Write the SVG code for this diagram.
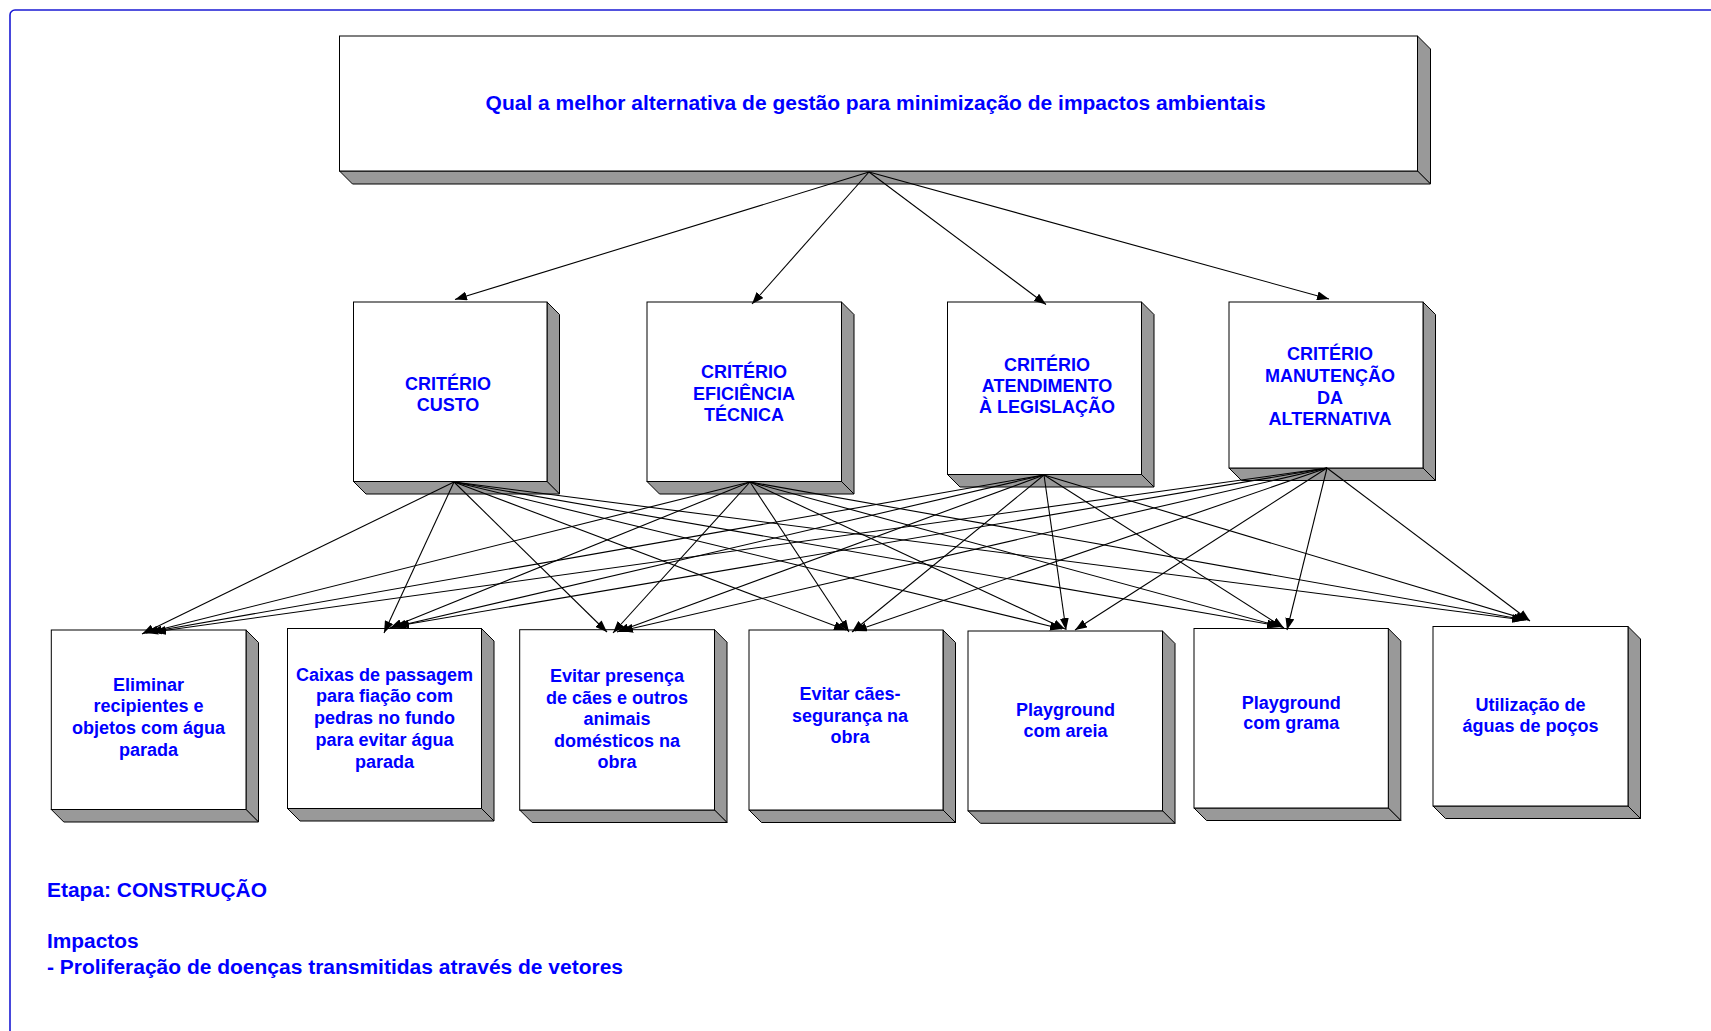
<svg xmlns="http://www.w3.org/2000/svg" width="1711" height="1031" viewBox="0 0 1711 1031">
  <defs>
    <marker id="arrow" markerUnits="userSpaceOnUse" markerWidth="12" markerHeight="9" refX="12" refY="4.5" orient="auto">
      <path d="M0,0 L12,4.5 L0,9 z" fill="#000"/>
    </marker>
  </defs>
  <style>
    .frame { fill: none; stroke: #1a1ad4; stroke-width: 1.6; }
    .face { fill: #fff; stroke: #000; stroke-width: 1; }
    .side { fill: #999; stroke: #000; stroke-width: 1; stroke-linejoin: miter; }
    .txt { font-family: "Liberation Sans", Arial, sans-serif; font-weight: bold; fill: #0000ff; }
    .crit { font-size: 18px; text-anchor: middle; }
    .alt { font-size: 18px; text-anchor: middle; }
    .big { font-size: 19.5px; }
    .conn line { stroke: #000; stroke-width: 1.1; marker-end: url(#arrow); }
  </style>

  <rect width="1711" height="1031" fill="#fff"/>
  <!-- page frame -->
  <rect class="frame" x="10" y="10" width="1730" height="1050" rx="5" ry="5"/>

  <!-- goal -->
  <g id="goal">
    <polygon class="side" points="1417.5,36 1430.5,49 1430.5,184 1417.5,171"/>
    <polygon class="side" points="339.5,171 1417.5,171 1430.5,184 352.5,184"/>
    <rect class="face" x="339.5" y="36" width="1078" height="135"/>
    <text class="txt big" x="485.6" y="109.5" textLength="780" lengthAdjust="spacingAndGlyphs">Qual a melhor alternativa de gestão para minimização de impactos ambientais</text>
  </g>

  <!-- criteria -->
  <g id="crit-custo">
    <polygon class="side" points="547,302 559.5,314.5 559.5,494 547,481.5"/>
    <polygon class="side" points="353.5,481.5 547,481.5 559.5,494 366,494"/>
    <rect class="face" x="353.5" y="302" width="193.5" height="179.5"/>
    <text class="txt crit" x="448" y="389.5">CRITÉRIO</text>
    <text class="txt crit" x="448" y="410.5">CUSTO</text>
  </g>
  <g id="crit-eficiencia">
    <polygon class="side" points="841.5,302 854,314.5 854,494 841.5,481.5"/>
    <polygon class="side" points="647,481.5 841.5,481.5 854,494 659.5,494"/>
    <rect class="face" x="647" y="302" width="194.5" height="179.5"/>
    <text class="txt crit" x="744" y="378.3">CRITÉRIO</text>
    <text class="txt crit" x="744" y="399.6">EFICIÊNCIA</text>
    <text class="txt crit" x="744" y="420.9">TÉCNICA</text>
  </g>
  <g id="crit-legislacao">
    <polygon class="side" points="1141.5,302 1154,314.5 1154,487 1141.5,474.5"/>
    <polygon class="side" points="947.5,474.5 1141.5,474.5 1154,487 960,487"/>
    <rect class="face" x="947.5" y="302" width="194" height="172.5"/>
    <text class="txt crit" x="1047" y="370.7">CRITÉRIO</text>
    <text class="txt crit" x="1047" y="392">ATENDIMENTO</text>
    <text class="txt crit" x="1047" y="413.3">À LEGISLAÇÃO</text>
  </g>
  <g id="crit-manutencao">
    <polygon class="side" points="1423,302 1435.5,314.5 1435.5,480.5 1423,468"/>
    <polygon class="side" points="1229,468 1423,468 1435.5,480.5 1241.5,480.5"/>
    <rect class="face" x="1229" y="302" width="194" height="166"/>
    <text class="txt crit" x="1330" y="360">CRITÉRIO</text>
    <text class="txt crit" x="1330" y="381.8">MANUTENÇÃO</text>
    <text class="txt crit" x="1330" y="403.6">DA</text>
    <text class="txt crit" x="1330" y="425.4">ALTERNATIVA</text>
  </g>

  <!-- alternatives -->
  <g id="alt-recipientes">
    <polygon class="side" points="246,630 258.5,642.5 258.5,822 246,809.5"/>
    <polygon class="side" points="51.3,809.5 246,809.5 258.5,822 63.8,822"/>
    <rect class="face" x="51.3" y="630" width="194.7" height="179.5"/>
    <text class="txt alt" x="148.6" y="690.7">Eliminar</text>
    <text class="txt alt" x="148.6" y="712.4">recipientes e</text>
    <text class="txt alt" x="148.6" y="734.1">objetos com água</text>
    <text class="txt alt" x="148.6" y="755.8">parada</text>
  </g>
  <g id="alt-caixas">
    <polygon class="side" points="481.5,628.5 494,641 494,821 481.5,808.5"/>
    <polygon class="side" points="287.5,808.5 481.5,808.5 494,821 300,821"/>
    <rect class="face" x="287.5" y="628.5" width="194" height="180"/>
    <text class="txt alt" x="384.5" y="680.7">Caixas de passagem</text>
    <text class="txt alt" x="384.5" y="702.4">para fiação com</text>
    <text class="txt alt" x="384.5" y="724.1">pedras no fundo</text>
    <text class="txt alt" x="384.5" y="745.8">para evitar água</text>
    <text class="txt alt" x="384.5" y="767.5">parada</text>
  </g>
  <g id="alt-animais">
    <polygon class="side" points="714.5,629.7 727,642.2 727,822.5 714.5,810"/>
    <polygon class="side" points="519.7,810 714.5,810 727,822.5 532.2,822.5"/>
    <rect class="face" x="519.7" y="629.7" width="194.8" height="180.3"/>
    <text class="txt alt" x="617" y="682">Evitar presença</text>
    <text class="txt alt" x="617" y="703.5">de cães e outros</text>
    <text class="txt alt" x="617" y="725">animais</text>
    <text class="txt alt" x="617" y="746.5">domésticos na</text>
    <text class="txt alt" x="617" y="768">obra</text>
  </g>
  <g id="alt-caes-seguranca">
    <polygon class="side" points="943,630 955.5,642.5 955.5,822.5 943,810"/>
    <polygon class="side" points="749,810 943,810 955.5,822.5 761.5,822.5"/>
    <rect class="face" x="749" y="630" width="194" height="180"/>
    <text class="txt alt" x="850" y="700">Evitar cães-</text>
    <text class="txt alt" x="850" y="721.5">segurança na</text>
    <text class="txt alt" x="850" y="743">obra</text>
  </g>
  <g id="alt-playground-areia">
    <polygon class="side" points="1162.5,631 1175,643.5 1175,823.3 1162.5,810.8"/>
    <polygon class="side" points="968,810.8 1162.5,810.8 1175,823.3 980.5,823.3"/>
    <rect class="face" x="968" y="631" width="194.5" height="179.8"/>
    <text class="txt alt" x="1065.5" y="716">Playground</text>
    <text class="txt alt" x="1065.5" y="736.7">com areia</text>
  </g>
  <g id="alt-playground-grama">
    <polygon class="side" points="1388.3,628.5 1400.8,641 1400.8,820.5 1388.3,808"/>
    <polygon class="side" points="1194,808 1388.3,808 1400.8,820.5 1206.5,820.5"/>
    <rect class="face" x="1194" y="628.5" width="194.3" height="179.5"/>
    <text class="txt alt" x="1291.3" y="708.7">Playground</text>
    <text class="txt alt" x="1291.3" y="729.4">com grama</text>
  </g>
  <g id="alt-pocos">
    <polygon class="side" points="1628,626.5 1640.5,639 1640.5,818.5 1628,806"/>
    <polygon class="side" points="1433,806 1628,806 1640.5,818.5 1445.5,818.5"/>
    <rect class="face" x="1433" y="626.5" width="195" height="179.5"/>
    <text class="txt alt" x="1530.5" y="710.7">Utilização de</text>
    <text class="txt alt" x="1530.5" y="732.4">águas de poços</text>
  </g>

  <!-- connectors -->
  <g id="connectors" class="conn">
    <!-- goal to criteria -->
    <line x1="869" y1="172" x2="455" y2="299.5"/>
    <line x1="869" y1="172" x2="752" y2="304"/>
    <line x1="869" y1="172" x2="1046" y2="304.5"/>
    <line x1="869" y1="172" x2="1329" y2="299"/>
    <!-- custo to alternatives -->
    <line x1="454" y1="482" x2="142" y2="634"/>
    <line x1="454" y1="482" x2="384" y2="633"/>
    <line x1="454" y1="482" x2="607" y2="632"/>
    <line x1="454" y1="482" x2="846" y2="630"/>
    <line x1="454" y1="482" x2="1062" y2="629"/>
    <line x1="454" y1="482" x2="1279" y2="626"/>
    <line x1="454" y1="482" x2="1524" y2="620"/>
    <!-- eficiencia to alternatives -->
    <line x1="750" y1="482" x2="146" y2="633"/>
    <line x1="750" y1="482" x2="390" y2="628"/>
    <line x1="750" y1="482" x2="613" y2="633"/>
    <line x1="750" y1="482" x2="849" y2="632"/>
    <line x1="750" y1="482" x2="1065" y2="629"/>
    <line x1="750" y1="482" x2="1282" y2="627"/>
    <line x1="750" y1="482" x2="1526" y2="620"/>
    <!-- legislacao to alternatives -->
    <line x1="1044" y1="475" x2="150" y2="632"/>
    <line x1="1044" y1="475" x2="394" y2="627"/>
    <line x1="1044" y1="475" x2="617" y2="632"/>
    <line x1="1044" y1="475" x2="852" y2="632"/>
    <line x1="1044" y1="475" x2="1066" y2="630"/>
    <line x1="1044" y1="475" x2="1284" y2="628"/>
    <line x1="1044" y1="475" x2="1528" y2="620"/>
    <!-- manutencao to alternatives -->
    <line x1="1327" y1="468" x2="154" y2="632"/>
    <line x1="1327" y1="468" x2="397" y2="626"/>
    <line x1="1327" y1="468" x2="621" y2="631"/>
    <line x1="1327" y1="468" x2="855" y2="631"/>
    <line x1="1327" y1="468" x2="1075" y2="630"/>
    <line x1="1327" y1="468" x2="1287" y2="630"/>
    <line x1="1327" y1="468" x2="1530" y2="621"/>
  </g>

  <!-- stage and impact notes -->
  <g id="notes">
    <text class="txt big" x="47" y="896.7" textLength="220" lengthAdjust="spacingAndGlyphs">Etapa: CONSTRUÇÃO</text>
    <text class="txt big" x="47" y="947.5" textLength="91.6" lengthAdjust="spacingAndGlyphs">Impactos</text>
    <text class="txt big" x="47" y="974" textLength="576" lengthAdjust="spacingAndGlyphs">- Proliferação de doenças transmitidas através de vetores</text>
  </g>
</svg>
